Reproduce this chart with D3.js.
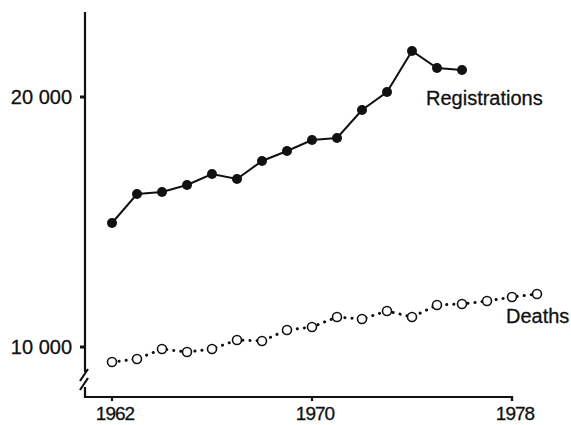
<!DOCTYPE html>
<html>
<head>
<meta charset="utf-8">
<script src="https://cdn.jsdelivr.net/npm/d3@7"></script>
<style>
  body { margin: 0; background: #fff; }
  svg { display: block; }
  text { font-family: "Liberation Sans", Arial, sans-serif; fill: #111; stroke: #111; stroke-width: 0.3px; }
</style>
</head>
<body>
<svg id="chart" width="571" height="425"></svg>
<script>
// data
var regYears = [1962, 1963, 1964, 1965, 1966, 1967, 1968, 1969, 1970, 1971, 1972, 1973, 1974, 1975, 1976];
var registrations = [14960, 16120, 16200, 16480, 16920, 16720, 17440, 17840, 18280, 18360, 19480, 20200, 21840, 21160, 21080];

var deathYears = [1962, 1963, 1964, 1965, 1966, 1967, 1968, 1969, 1970, 1971, 1972, 1973, 1974, 1975, 1976, 1977, 1978, 1979];
var deaths = [9400, 9520, 9920, 9800, 9920, 10280, 10240, 10680, 10800, 11200, 11120, 11440, 11200, 11680, 11720, 11840, 12000, 12120];

var xTicks = [1962, 1970, 1978];
var yTicks = [10000, 20000];

var svg = d3.select("#chart");

var x = d3.scaleLinear().domain([1962, 1978]).range([112, 512]);
var y = d3.scaleLinear().domain([10000, 20000]).range([347, 97]);

var axisX = 85, axisY = 397, axisTop = 12;
var ink = "#111";

// y axis with break mark near the bottom
var g = svg.append("g").attr("stroke", ink).attr("stroke-width", 2.2).attr("fill", "none");
g.append("path").attr("d", "M" + axisX + "," + axisTop + "V372");
g.append("path").attr("d", "M88,369L80,381");
g.append("path").attr("d", "M88,378L80,390");
g.append("path").attr("d", "M" + axisX + ",387V" + axisY + "H" + x(1978) + "V" + (axisY + 4));

// y ticks
var fmt = function(d) { return d3.format(",")(d).replace(",", " "); };
var yg = svg.append("g");
yg.selectAll("line").data(yTicks).enter().append("line")
  .attr("x1", axisX - 5).attr("x2", axisX)
  .attr("y1", function(d) { return y(d); }).attr("y2", function(d) { return y(d); })
  .attr("stroke", ink).attr("stroke-width", 3);
yg.selectAll("text").data(yTicks).enter().append("text")
  .attr("x", 72).attr("y", function(d) { return y(d); })
  .attr("dy", "0.35em").attr("text-anchor", "end")
  .style("font-size", "20px")
  .text(fmt);

// x ticks
var xg = svg.append("g");
xg.selectAll("line").data(xTicks).enter().append("line")
  .attr("x1", function(d) { return x(d); }).attr("x2", function(d) { return x(d); })
  .attr("y1", axisY).attr("y2", axisY + 4)
  .attr("stroke", ink).attr("stroke-width", 2.2);
xg.selectAll("text").data(xTicks).enter().append("text")
  .attr("x", function(d) { return x(d) + 3; }).attr("y", 420)
  .attr("text-anchor", "middle")
  .style("font-size", "19px")
  .style("letter-spacing", "-1px")
  .text(function(d) { return d; });

// registrations: solid line, filled dots
var reg = regYears.map(function(d, i) { return [d, registrations[i]]; });
var line = d3.line().x(function(d) { return x(d[0]); }).y(function(d) { return y(d[1]); });

svg.append("path").datum(reg)
  .attr("d", line).attr("fill", "none").attr("stroke", ink).attr("stroke-width", 2);
svg.append("g").selectAll("circle").data(reg).enter().append("circle")
  .attr("cx", function(d) { return x(d[0]); }).attr("cy", function(d) { return y(d[1]); })
  .attr("r", 5).attr("fill", ink);

// deaths: dotted line, open circles
var dth = deathYears.map(function(d, i) { return [d, deaths[i]]; });
svg.append("path").datum(dth)
  .attr("d", line).attr("fill", "none").attr("stroke", ink)
  .attr("stroke-width", 3).attr("stroke-linecap", "round")
  .attr("stroke-dasharray", "0.1,7");
svg.append("g").selectAll("circle").data(dth).enter().append("circle")
  .attr("cx", function(d) { return x(d[0]); }).attr("cy", function(d) { return y(d[1]); })
  .attr("r", 4.5).attr("fill", "#fff").attr("stroke", ink).attr("stroke-width", 1.6);

// series labels
svg.append("text").attr("x", 426).attr("y", 105).style("font-size", "20px").text("Registrations");
svg.append("text").attr("x", 506).attr("y", 323).style("font-size", "20px").text("Deaths");
</script>
</body>
</html>
